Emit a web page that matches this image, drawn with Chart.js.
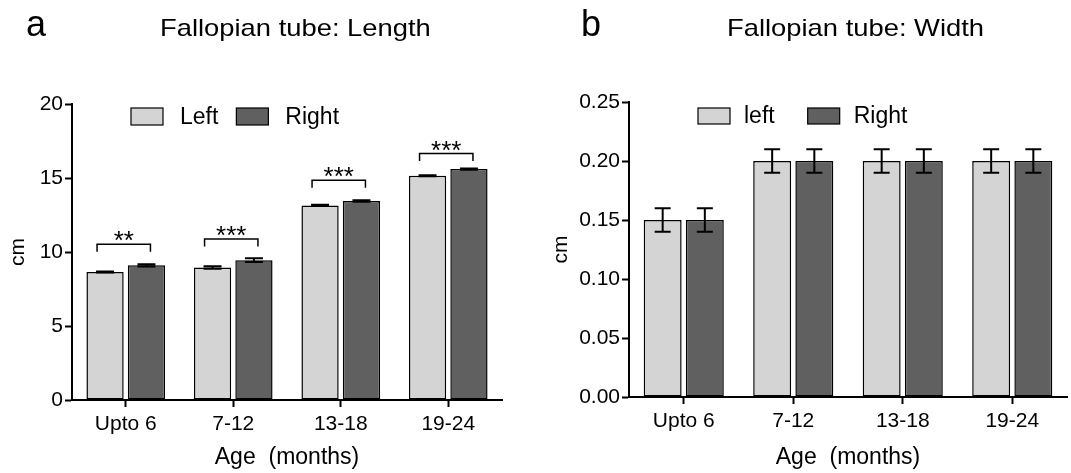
<!DOCTYPE html>
<html>
<head>
<meta charset="utf-8">
<script src="https://cdn.jsdelivr.net/npm/chart.js@4.4.1/dist/chart.umd.min.js"></script>
<style>
  body { margin: 0; background: #fff; font-family: Arial, "Liberation Sans", sans-serif; }
  #wrap { position: relative; width: 1071px; height: 473px; overflow: hidden; }
  .panel { position: absolute; top: 0; height: 473px; }
  .txt { position: absolute; color: #000; white-space: nowrap; line-height: 1; }
  .ttl { font-size: 24px; top: 16px; transform: scaleX(1.14); transform-origin: 0 0; }
</style>
</head>
<body>
<div id="wrap">
  <div class="panel" style="left:0;width:535px"><canvas id="lenChart"></canvas></div>
  <div class="panel" style="left:535px;width:536px"><canvas id="widChart"></canvas></div>
  <div class="txt" style="left:26px;top:6px;font-size:36px">a</div>
  <div class="txt ttl" style="left:160px">Fallopian tube: Length</div>
  <div class="txt" style="left:581px;top:6px;font-size:36px">b</div>
  <div class="txt ttl" style="left:727px">Fallopian tube: Width</div>
</div>
<script>
const ageGroups = ["Upto 6", "7-12", "13-18", "19-24"];

// panel a: length (cm)
const lenLeft = [8.65, 8.95, 13.15, 15.15];
const lenRight = [9.1, 9.45, 13.45, 15.6];
const lenLeftErr = [0.04, 0.08, 0.04, 0.04];
const lenRightErr = [0.08, 0.12, 0.05, 0.05];
const sigLabels = ["**", "***", "***", "***"];
const sigHeights = [10.52, 10.88, 14.84, 16.65];

// panel b: width (cm)
const widLeft = [0.15, 0.2, 0.2, 0.2];
const widRight = [0.15, 0.2, 0.2, 0.2];
const widLeftErr = [0.01, 0.01, 0.01, 0.01];
const widRightErr = [0.01, 0.01, 0.01, 0.01];

const light = "#d4d4d4";
const dark = "#606060";
const FONT = "Arial, 'Liberation Sans', sans-serif";

const errorBars = {
  id: "errorBars",
  afterDatasetsDraw(chart, args, opts) {
    const ctx = chart.ctx;
    const y = chart.scales.y;
    chart.data.datasets.forEach((ds, di) => {
      const meta = chart.getDatasetMeta(di);
      meta.data.forEach((bar, i) => {
        const v = ds.data[i], e = ds.errors[i];
        const top = y.getPixelForValue(v + e);
        const bot = y.getPixelForValue(v - e);
        ctx.save();
        ctx.strokeStyle = "#000";
        ctx.lineWidth = opts.width;
        ctx.beginPath();
        ctx.moveTo(bar.x, top); ctx.lineTo(bar.x, bot);
        ctx.moveTo(bar.x - opts.cap, top); ctx.lineTo(bar.x + opts.cap, top);
        ctx.moveTo(bar.x - opts.cap, bot); ctx.lineTo(bar.x + opts.cap, bot);
        ctx.stroke();
        ctx.restore();
      });
    });
  }
};

// legend drawn inside the plot area
const innerLegend = {
  id: "innerLegend",
  afterDraw(chart, args, opts) {
    const ctx = chart.ctx;
    const area = chart.chartArea;
    let x = area.left + opts.x;
    const y = area.top + opts.y;
    ctx.save();
    ctx.font = "23px " + FONT;
    ctx.textBaseline = "middle";
    chart.data.datasets.forEach((ds) => {
      ctx.fillStyle = ds.backgroundColor;
      ctx.fillRect(x, y, 32, opts.h);
      ctx.strokeStyle = "#000";
      ctx.lineWidth = 1.2;
      ctx.strokeRect(x, y, 32, opts.h);
      ctx.fillStyle = "#000";
      ctx.fillText(ds.label, x + 32 + opts.textGap, y + opts.h / 2 + 1);
      x += 32 + opts.textGap + ctx.measureText(ds.label).width + opts.itemGap;
    });
    ctx.restore();
  }
};

const brackets = {
  id: "brackets",
  afterDatasetsDraw(chart, args, opts) {
    if (!opts.labels) return;
    const ctx = chart.ctx;
    const y = chart.scales.y;
    const m0 = chart.getDatasetMeta(0), m1 = chart.getDatasetMeta(1);
    ctx.save();
    ctx.strokeStyle = "#000";
    ctx.lineWidth = 1.5;
    ctx.fillStyle = "#000";
    ctx.font = "26px " + FONT;
    ctx.textAlign = "center";
    ctx.textBaseline = "alphabetic";
    opts.labels.forEach((lab, i) => {
      const x1 = m0.data[i].x - 8, x2 = m1.data[i].x + 4;
      const yt = y.getPixelForValue(opts.heights[i]);
      const yb = y.getPixelForValue(opts.heights[i] - 0.5);
      ctx.beginPath();
      ctx.moveTo(x1, yb); ctx.lineTo(x1, yt); ctx.lineTo(x2, yt); ctx.lineTo(x2, yb);
      ctx.stroke();
      ctx.fillText(lab, (x1 + x2) / 2, yt + 5);
    });
    ctx.restore();
  }
};

function makeChart(el, cfg) {
  return new Chart(document.getElementById(el), {
    type: "bar",
    data: {
      labels: ageGroups,
      datasets: [
        { label: cfg.names[0], data: cfg.left, errors: cfg.leftErr, backgroundColor: light,
          borderColor: "#000", borderWidth: 1.5, borderSkipped: false,
          categoryPercentage: 0.77, barPercentage: 0.9 },
        { label: cfg.names[1], data: cfg.right, errors: cfg.rightErr, backgroundColor: dark,
          borderColor: "#000", borderWidth: 1.5, borderSkipped: false,
          categoryPercentage: 0.77, barPercentage: 0.9 }
      ]
    },
    options: {
      responsive: true,
      maintainAspectRatio: false,
      animation: false,
      layout: { padding: cfg.padding },
      plugins: {
        legend: { display: false },
        tooltip: { enabled: false },
        errorBars: { width: 2, cap: cfg.cap },
        innerLegend: cfg.legend,
        brackets: cfg.brackets || {}
      },
      scales: {
        x: {
          offset: true,
          grid: { offset: false, drawOnChartArea: false, drawTicks: true, tickLength: 7, tickWidth: 2, tickColor: "#000" },
          border: { display: true, color: "#000", width: 2 },
          ticks: { color: "#000", font: { family: FONT, size: 21 }, padding: 5 },
          title: { display: true, text: "Age  (months)", color: "#000", font: { family: FONT, size: 23 }, padding: { top: 2, bottom: 0 } },
          afterFit(s) { s.height = cfg.xHeight; }
        },
        y: {
          min: 0, max: cfg.max,
          grid: { drawOnChartArea: false, drawTicks: true, tickLength: 7, tickWidth: 2, tickColor: "#000" },
          border: { display: true, color: "#000", width: 2 },
          ticks: { stepSize: cfg.step, color: "#000", font: { family: FONT, size: 21 }, padding: 2,
                   callback: cfg.fmt },
          title: { display: true, text: "cm", color: "#000", font: { family: FONT, size: 21 }, padding: { top: cfg.yTitlePad } },
          afterFit(s) { s.width = cfg.yWidth; }
        }
      }
    },
    plugins: [errorBars, innerLegend, brackets]
  });
}

makeChart("lenChart", {
  names: ["Left", "Right"],
  left: lenLeft, right: lenRight, leftErr: lenLeftErr, rightErr: lenRightErr,
  max: 20, step: 5, fmt: (v) => v,
  padding: { top: 104, right: 33, bottom: 2, left: 0 },
  yWidth: 72, xHeight: 71, yTitlePad: 6, cap: 9,
  legend: { x: 59, y: 4, h: 17, textGap: 17, itemGap: 18 },
  brackets: { labels: sigLabels, heights: sigHeights }
});

makeChart("widChart", {
  names: ["left", "Right"],
  left: widLeft, right: widRight, leftErr: widLeftErr, rightErr: widRightErr,
  max: 0.25, step: 0.05, fmt: (v) => Number(v).toFixed(2),
  padding: { top: 102, right: 4, bottom: 2, left: 0 },
  yWidth: 94, xHeight: 74, yTitlePad: 14, cap: 8,
  legend: { x: 69, y: 6, h: 16, textGap: 14, itemGap: 33 }
});
</script>
</body>
</html>
